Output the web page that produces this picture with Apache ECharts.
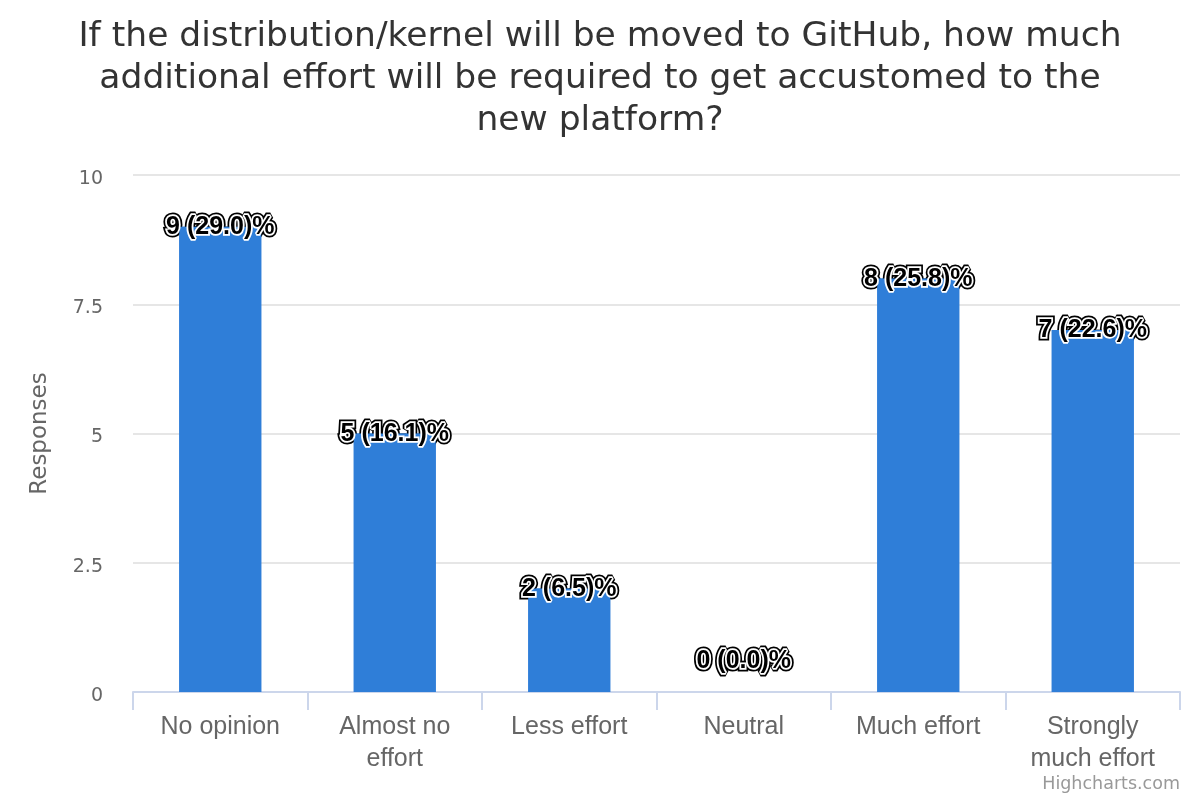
<!DOCTYPE html>
<html><head><meta charset="utf-8">
<script src="https://cdn.jsdelivr.net/npm/echarts@6/dist/echarts.min.js"></script>
<style>html,body{margin:0;padding:0;background:#fff}#c{width:1200px;height:800px}</style>
</head><body><div id="c"></div>
<script>
const titleText = "If the distribution/kernel will be moved to GitHub, how much\nadditional effort will be required to get accustomed to the\nnew platform?";
const categories = ["No opinion", "Almost no effort", "Less effort", "Neutral", "Much effort", "Strongly much effort"];
const categoryLabels = ["No opinion", "Almost no\neffort", "Less effort", "Neutral", "Much effort", "Strongly\nmuch effort"];
const responses = [9, 5, 2, 0, 8, 7];
const percents = ["29.0", "16.1", "6.5", "0.0", "25.8", "22.6"];
const yTicks = [0, 2.5, 5, 7.5, 10];

const barData = responses.map(v => v === 0 ? {value: v, label: {distance: 18}} : v);
const labelFormatter = p => p.value + ' (' + percents[p.dataIndex] + ')%';
const labelBase = {show: true, position: 'top', distance: -13, formatter: labelFormatter,
  fontFamily: 'Liberation Sans, Arial', fontSize: 25, fontWeight: 'bold'};

const chart = echarts.init(document.getElementById('c'));
chart.setOption({
  animation: false,
  title: {
    text: titleText, left: 'center', top: 11,
    textStyle: {fontFamily: 'DejaVu Sans', fontSize: 34.5, fontWeight: 'normal', color: '#333333', lineHeight: 42}
  },
  graphic: [{type: 'text', right: 20, bottom: 7, style: {text: 'Highcharts.com', fontFamily: 'DejaVu Sans', fontSize: 17.5, fill: '#999999'}}],
  grid: {left: 133, right: 20, top: 175, bottom: 108},
  xAxis: {
    type: 'category', data: categories,
    axisLine: {lineStyle: {color: '#ccd6eb', width: 2}},
    axisTick: {show: true, length: 18, lineStyle: {color: '#ccd6eb', width: 2}},
    axisLabel: {
      formatter: (v, i) => categoryLabels[i],
      fontFamily: 'Liberation Sans, Arial', fontSize: 25, color: '#666666', lineHeight: 32, margin: 19
    }
  },
  yAxis: {
    type: 'value', min: 0, max: 10, interval: 2.5,
    name: 'Responses', nameLocation: 'middle', nameGap: 81, nameRotate: 90,
    nameTextStyle: {fontFamily: 'DejaVu Sans', fontSize: 23, color: '#666666'},
    axisLine: {show: false}, axisTick: {show: false},
    axisLabel: {fontFamily: 'DejaVu Sans', fontSize: 19, color: '#666666', margin: 30,
      verticalAlign: 'top', lineHeight: 8,
      formatter: v => yTicks.includes(v) ? String(v) : ''},
    splitLine: {lineStyle: {color: '#e6e6e6', width: 2}}
  },
  series: [{
    type: 'bar', data: barData, barWidth: 82, z: 2,
    itemStyle: {color: '#2f7ed8'},
    label: Object.assign({}, labelBase, {color: '#000000', textBorderColor: '#000000', textBorderWidth: 7})
  }, {
    type: 'bar', data: barData, barWidth: 82, barGap: '-100%', z: 3,
    itemStyle: {color: '#2f7ed8'},
    label: Object.assign({}, labelBase, {color: '#000000', textBorderColor: '#ffffff', textBorderWidth: 3.5})
  }]
});
</script></body></html>
